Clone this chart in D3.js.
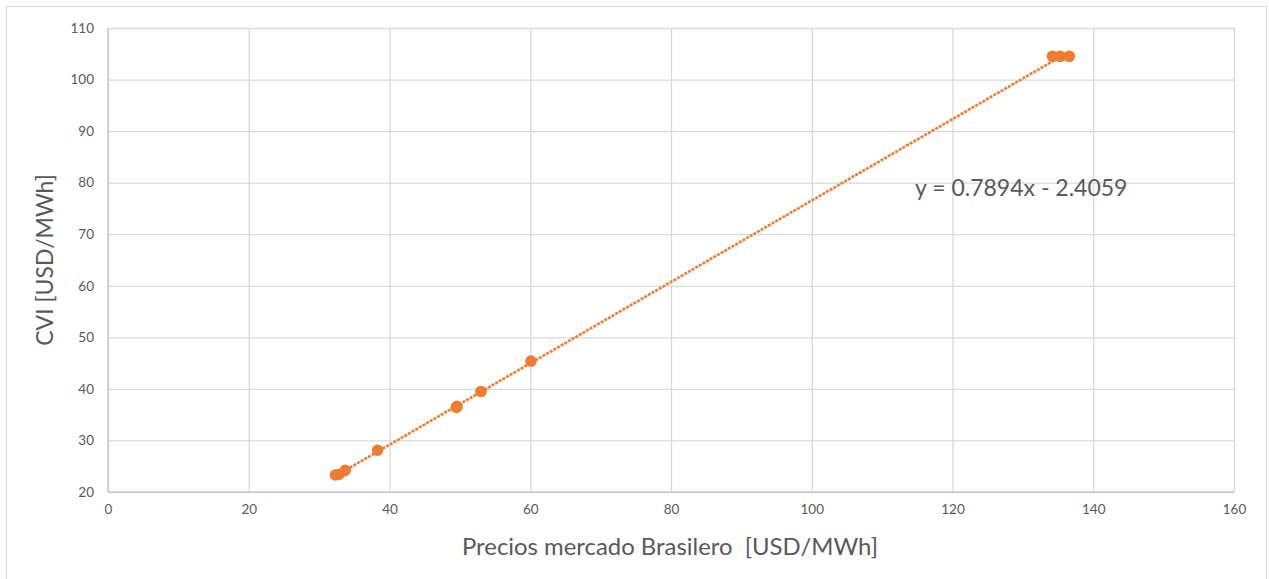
<!DOCTYPE html>
<html>
<head>
<meta charset="utf-8">
<script src="https://cdn.jsdelivr.net/npm/d3@7"></script>
<style>
  html, body { margin: 0; padding: 0; background: #fff; }
  svg text { font-family: Lato, "Open Sans", sans-serif; white-space: pre; }
</style>
</head>
<body>
<svg id="chart" width="1269" height="579"></svg>
<script>
// Brazilian market price vs. CVI observations
const precios = [32.3, 32.8, 33.7, 38.3, 49.5, 49.6, 53.0, 60.1, 134.2, 135.3, 136.6];
const cvi     = [23.3, 23.4, 24.2, 28.1, 36.4, 36.6, 39.5, 45.4, 104.5, 104.5, 104.5];

// Linear trend fitted to the series
const slope = 0.7894;
const intercept = -2.4059;
const trendLabel = "y = 0.7894x - 2.4059";

const xTicks = [0, 20, 40, 60, 80, 100, 120, 140, 160];
const yTicks = [20, 30, 40, 50, 60, 70, 80, 90, 100, 110];

const xTitle = "Precios mercado Brasilero  [USD/MWh]";
const yTitle = "CVI [USD/MWh]";

const svg = d3.select("#chart");
const plot = { left: 108, right: 1234, top: 28, bottom: 492 };
const orange = "#ED7D31";
const gridColor = "#d9d9d9";
const textColor = "#595959";

// Chart frame
svg.append("rect")
  .attr("x", 6.5).attr("y", 6.5)
  .attr("width", 1260).attr("height", 580)
  .attr("fill", "#fff").attr("stroke", "#d9d9d9").attr("stroke-width", 1);

const x = d3.scaleLinear().domain([0, 160]).range([plot.left, plot.right]);
const y = d3.scaleLinear().domain([20, 110]).range([plot.bottom, plot.top]);

// Gridlines
const xAxis = d3.axisBottom(x).tickValues(xTicks)
  .tickSize(-(plot.bottom - plot.top)).tickFormat(d => d).tickPadding(12);
const gx = svg.append("g").attr("transform", `translate(0,${plot.bottom})`).call(xAxis);
gx.select(".domain").remove();
gx.selectAll(".tick line").attr("stroke", gridColor).attr("stroke-width", 1.3);
gx.selectAll(".tick text").attr("fill", textColor).attr("font-size", 13.5);

const yAxis = d3.axisLeft(y).tickValues(yTicks)
  .tickSize(-(plot.right - plot.left)).tickFormat(d => d).tickPadding(14);
const gy = svg.append("g").attr("transform", `translate(${plot.left},0)`).call(yAxis);
gy.select(".domain").remove();
gy.selectAll(".tick line").attr("stroke", gridColor).attr("stroke-width", 1.3);
gy.selectAll(".tick text").attr("fill", textColor).attr("font-size", 13.5);

// Axis lines
svg.append("line")
  .attr("x1", plot.left).attr("x2", plot.right)
  .attr("y1", plot.bottom).attr("y2", plot.bottom)
  .attr("stroke", "#c8c8c8").attr("stroke-width", 1.5);
svg.append("line")
  .attr("x1", plot.left).attr("x2", plot.left)
  .attr("y1", plot.top).attr("y2", plot.bottom)
  .attr("stroke", "#c8c8c8").attr("stroke-width", 1.5);

// Markers
svg.append("g").selectAll("circle")
  .data(precios.map((p, i) => [p, cvi[i]]))
  .join("circle")
  .attr("cx", d => x(d[0]))
  .attr("cy", d => y(d[1]))
  .attr("r", 5.8)
  .attr("fill", orange);

// Trendline over the data range
const xmin = d3.min(precios), xmax = d3.max(precios);
svg.append("line")
  .attr("x1", x(xmin)).attr("y1", y(slope * xmin + intercept))
  .attr("x2", x(xmax)).attr("y2", y(slope * xmax + intercept))
  .attr("stroke", orange).attr("stroke-width", 2.6)
  .attr("stroke-dasharray", "3,1.2");

// Equation label
svg.append("text")
  .attr("x", 915).attr("y", 196)
  .attr("fill", textColor).attr("font-size", 23)
  .text(trendLabel);

// Axis titles
svg.append("text")
  .attr("x", 670).attr("y", 555)
  .attr("text-anchor", "middle")
  .attr("fill", textColor).attr("font-size", 23.9)
  .text(xTitle);

svg.append("text")
  .attr("transform", `translate(53,260) rotate(-90)`)
  .attr("text-anchor", "middle")
  .attr("fill", textColor).attr("font-size", 23)
  .text(yTitle);
</script>
</body>
</html>
